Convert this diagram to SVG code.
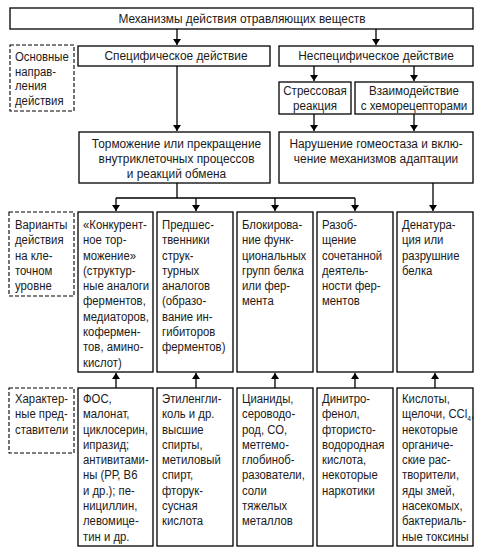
<svg xmlns="http://www.w3.org/2000/svg" width="481" height="551" viewBox="0 0 481 551">
<defs>
<style>
.b{fill:#fff;stroke:#000;stroke-width:1.3}
.d{fill:#fff;stroke:#000;stroke-width:1.1;stroke-dasharray:4 2}
.c{fill:none;stroke:#000;stroke-width:1.3}
text{font-family:"Liberation Sans",Arial,sans-serif;font-size:13.5px;fill:#1a1a1a}
.m{text-anchor:middle}
</style>
<marker id="ah" viewBox="0 0 6 8" refX="6" refY="4" markerWidth="6" markerHeight="8" markerUnits="userSpaceOnUse" orient="auto">
<path d="M0,0 L6,4 L0,8 Z" fill="#000"/>
</marker>
</defs>
<rect width="481" height="551" fill="#fff"/>
<g id="connectors">
<path class="c" d="M177,29 V45" marker-end="url(#ah)"/>
<path class="c" d="M376,29 V45" marker-end="url(#ah)"/>
<path class="c" d="M314,66 V81" marker-end="url(#ah)"/>
<path class="c" d="M414,66 V81" marker-end="url(#ah)"/>
<path class="c" d="M177,66 V131" marker-end="url(#ah)"/>
<path class="c" d="M314,114 V131" marker-end="url(#ah)"/>
<path class="c" d="M414,114 V131" marker-end="url(#ah)"/>
<path class="c" d="M177,183 V198 M116,198 H355"/>
<path class="c" d="M116,198 V211" marker-end="url(#ah)"/>
<path class="c" d="M196,198 V211" marker-end="url(#ah)"/>
<path class="c" d="M275,198 V211" marker-end="url(#ah)"/>
<path class="c" d="M355,198 V211" marker-end="url(#ah)"/>
<path class="c" d="M433,183 V211" marker-end="url(#ah)"/>
<path class="c" d="M116,388 V373" marker-end="url(#ah)"/>
<path class="c" d="M196,388 V373" marker-end="url(#ah)"/>
<path class="c" d="M275,388 V373" marker-end="url(#ah)"/>
<path class="c" d="M355,388 V373" marker-end="url(#ah)"/>
<path class="c" d="M435,388 V373" marker-end="url(#ah)"/>
</g>
<g id="top">
<rect class="b" x="10" y="8" width="463" height="21"/>
<g transform="translate(242,0) scale(0.88,1)"><text class="m" x="0" y="23.5">Механизмы действия отравляющих веществ</text></g>
</g>
<g id="label-directions">
<rect class="d" x="10" y="45" width="64" height="66"/>
<g transform="translate(15,0) scale(0.84,1)">
<text x="0" y="61.5">Основные</text>
<text x="0" y="76">направ-</text>
<text x="0" y="90.5">ления</text>
<text x="0" y="105">действия</text>
</g>
</g>
<g id="specific">
<rect class="b" x="78" y="46" width="192" height="20"/>
<g transform="translate(176,0) scale(0.88,1)"><text class="m" x="0" y="60.5">Специфическое действие</text></g>
</g>
<g id="nonspecific">
<rect class="b" x="279" y="46" width="194" height="20"/>
<g transform="translate(376,0) scale(0.88,1)"><text class="m" x="0" y="60.5">Неспецифическое действие</text></g>
</g>
<g id="stress">
<rect class="b" x="279" y="82" width="72" height="32"/>
<g transform="translate(315,0) scale(0.86,1)">
<text class="m" x="0" y="95">Стрессовая</text>
<text class="m" x="0" y="110">реакция</text>
</g>
</g>
<g id="chemoreceptors">
<rect class="b" x="355" y="82" width="118" height="32"/>
<g transform="translate(414,0) scale(0.86,1)">
<text class="m" x="0" y="95">Взаимодействие</text>
<text class="m" x="0" y="110">с хеморецепторами</text>
</g>
</g>
<g id="inhibition">
<rect class="b" x="79" y="132" width="191" height="51"/>
<g transform="translate(176.5,0) scale(0.88,1)">
<text class="m" x="0" y="148">Торможение или прекращение</text>
<text class="m" x="0" y="163">внутриклеточных процессов</text>
<text class="m" x="0" y="178">и реакций обмена</text>
</g>
</g>
<g id="homeostasis">
<rect class="b" x="279" y="132" width="194" height="51"/>
<g transform="translate(376,0) scale(0.88,1)">
<text class="m" x="0" y="148">Нарушение гомеостаза и вклю-</text>
<text class="m" x="0" y="163">чение механизмов адаптации</text>
</g>
</g>
<g id="label-variants">
<rect class="d" x="9" y="212" width="65" height="84"/>
<g transform="translate(15,0) scale(0.84,1)">
<text x="0" y="229">Варианты</text>
<text x="0" y="244.3">действия</text>
<text x="0" y="259.6">на кле-</text>
<text x="0" y="274.9">точном</text>
<text x="0" y="290.2">уровне</text>
</g>
</g>
<g id="v1">
<rect class="b" x="78" y="212" width="75" height="160"/>
<g transform="translate(83,0) scale(0.84,1)">
<text x="0" y="229">«Конкурент-</text>
<text x="0" y="244.3">ное тор-</text>
<text x="0" y="259.6">можение»</text>
<text x="0" y="274.9">(структур-</text>
<text x="0" y="290.2">ные аналоги</text>
<text x="0" y="305.5">ферментов,</text>
<text x="0" y="320.8">медиаторов,</text>
<text x="0" y="336.1">кофермен-</text>
<text x="0" y="351.4">тов, амино-</text>
<text x="0" y="366.7">кислот)</text>
</g>
</g>
<g id="v2">
<rect class="b" x="157" y="212" width="76" height="160"/>
<g transform="translate(162,0) scale(0.84,1)">
<text x="0" y="229">Предшес-</text>
<text x="0" y="244.3">твенники</text>
<text x="0" y="259.6">струк-</text>
<text x="0" y="274.9">турных</text>
<text x="0" y="290.2">аналогов</text>
<text x="0" y="305.5">(образо-</text>
<text x="0" y="320.8">вание ин-</text>
<text x="0" y="336.1">гибиторов</text>
<text x="0" y="351.4">ферментов)</text>
</g>
</g>
<g id="v3">
<rect class="b" x="237" y="212" width="76" height="160"/>
<g transform="translate(242,0) scale(0.84,1)">
<text x="0" y="229">Блокирова-</text>
<text x="0" y="244.3">ние функ-</text>
<text x="0" y="259.6">циональных</text>
<text x="0" y="274.9">групп белка</text>
<text x="0" y="290.2">или фер-</text>
<text x="0" y="305.5">мента</text>
</g>
</g>
<g id="v4">
<rect class="b" x="317" y="212" width="76" height="160"/>
<g transform="translate(322,0) scale(0.84,1)">
<text x="0" y="229">Разоб-</text>
<text x="0" y="244.3">щение</text>
<text x="0" y="259.6">сочетанной</text>
<text x="0" y="274.9">деятель-</text>
<text x="0" y="290.2">ности фер-</text>
<text x="0" y="305.5">ментов</text>
</g>
</g>
<g id="v5">
<rect class="b" x="397" y="212" width="76" height="160"/>
<g transform="translate(402,0) scale(0.84,1)">
<text x="0" y="229">Денатура-</text>
<text x="0" y="244.3">ция или</text>
<text x="0" y="259.6">разрушние</text>
<text x="0" y="274.9">белка</text>
</g>
</g>
<g id="label-representatives">
<rect class="d" x="9" y="388" width="65" height="65"/>
<g transform="translate(15,0) scale(0.84,1)">
<text x="0" y="403">Характер-</text>
<text x="0" y="418.3">ные пред-</text>
<text x="0" y="433.6">ставители</text>
</g>
</g>
<g id="r1">
<rect class="b" x="78" y="388" width="75" height="158"/>
<g transform="translate(83,0) scale(0.84,1)">
<text x="0" y="403">ФОС,</text>
<text x="0" y="418.3">малонат,</text>
<text x="0" y="433.6">циклосерин,</text>
<text x="0" y="448.9">ипразид;</text>
<text x="0" y="464.2">антивитами-</text>
<text x="0" y="479.5">ны (РР, В6</text>
<text x="0" y="494.8">и др.); пе-</text>
<text x="0" y="510.1">нициллин,</text>
<text x="0" y="525.4">левомице-</text>
<text x="0" y="540.7">тин и др.</text>
</g>
</g>
<g id="r2">
<rect class="b" x="157" y="388" width="76" height="158"/>
<g transform="translate(162,0) scale(0.84,1)">
<text x="0" y="403">Этиленгли-</text>
<text x="0" y="418.3">коль и др.</text>
<text x="0" y="433.6">высшие</text>
<text x="0" y="448.9">спирты,</text>
<text x="0" y="464.2">метиловый</text>
<text x="0" y="479.5">спирт,</text>
<text x="0" y="494.8">фторук-</text>
<text x="0" y="510.1">сусная</text>
<text x="0" y="525.4">кислота</text>
</g>
</g>
<g id="r3">
<rect class="b" x="237" y="388" width="76" height="158"/>
<g transform="translate(242,0) scale(0.84,1)">
<text x="0" y="403">Цианиды,</text>
<text x="0" y="418.3">сероводо-</text>
<text x="0" y="433.6">род, СО,</text>
<text x="0" y="448.9">метгемо-</text>
<text x="0" y="464.2">глобиноб-</text>
<text x="0" y="479.5">разователи,</text>
<text x="0" y="494.8">соли</text>
<text x="0" y="510.1">тяжелых</text>
<text x="0" y="525.4">металлов</text>
</g>
</g>
<g id="r4">
<rect class="b" x="317" y="388" width="76" height="158"/>
<g transform="translate(322,0) scale(0.84,1)">
<text x="0" y="403">Динитро-</text>
<text x="0" y="418.3">фенол,</text>
<text x="0" y="433.6">фтористо-</text>
<text x="0" y="448.9">водородная</text>
<text x="0" y="464.2">кислота,</text>
<text x="0" y="479.5">некоторые</text>
<text x="0" y="494.8">наркотики</text>
</g>
</g>
<g id="r5">
<rect class="b" x="397" y="388" width="76" height="158"/>
<g transform="translate(402,0) scale(0.84,1)">
<text x="0" y="403">Кислоты,</text>
<text x="0" y="418.3">щелочи, CCl<tspan font-size="8" dy="3">4</tspan><tspan dy="-3">,</tspan></text>
<text x="0" y="433.6">некоторые</text>
<text x="0" y="448.9">органиче-</text>
<text x="0" y="464.2">ские рас-</text>
<text x="0" y="479.5">творители,</text>
<text x="0" y="494.8">яды змей,</text>
<text x="0" y="510.1">насекомых,</text>
<text x="0" y="525.4">бактериаль-</text>
<text x="0" y="540.7">ные токсины</text>
</g>
</g>
</svg>
